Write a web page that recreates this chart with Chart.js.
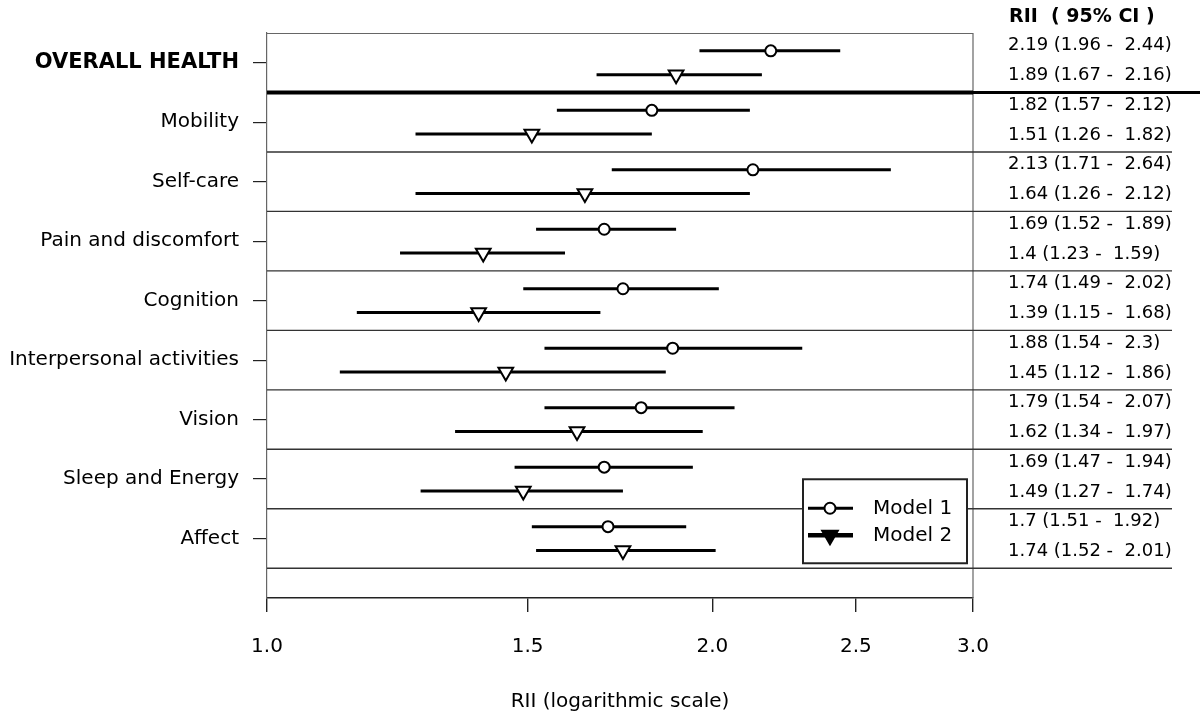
<!DOCTYPE html>
<html><head><meta charset="utf-8">
<script src="https://cdn.jsdelivr.net/npm/chart.js@4/dist/chart.umd.min.js"></script>
<style>html,body{margin:0;padding:0;background:#fff}#wrap{width:1200px;height:721px}</style>
</head><body><div id="wrap"><canvas id="c" width="1200" height="721"></canvas></div>
<script>
const categories = ["OVERALL HEALTH","Mobility","Self-care","Pain and discomfort","Cognition","Interpersonal activities","Vision","Sleep and Energy","Affect"];
const xTicks = [1.0, 1.5, 2.0, 2.5, 3.0];
const seriesNames = ["Model 1", "Model 2"];
const model1Est = [2.19, 1.82, 2.13, 1.69, 1.74, 1.88, 1.79, 1.69, 1.7];
const model1Lo  = [1.96, 1.57, 1.71, 1.52, 1.49, 1.54, 1.54, 1.47, 1.51];
const model1Hi  = [2.44, 2.12, 2.64, 1.89, 2.02, 2.3, 2.07, 1.94, 1.92];
const model2Est = [1.89, 1.51, 1.64, 1.4, 1.39, 1.45, 1.62, 1.49, 1.74];
const model2Lo  = [1.67, 1.26, 1.26, 1.23, 1.15, 1.12, 1.34, 1.27, 1.52];
const model2Hi  = [2.16, 1.82, 2.12, 1.59, 1.68, 1.86, 1.97, 1.74, 2.01];
const tableHeader = "RII  ( 95% CI )";
const xTitle = "RII (logarithmic scale)";

const FONT = "'DejaVu Sans', sans-serif";
const OFF = 0.2;
const fmt = (e, l, h) => `${e} (${l} -  ${h})`;

const markerSets = [
  { label: seriesNames[0], data: categories.map((c, i) => ({ x: model1Est[i], y: i - OFF })),
    showLine: false, pointStyle: 'circle', pointRadius: 5.5, pointBorderWidth: 2,
    pointBorderColor: '#000', pointBackgroundColor: '#fff', borderColor: '#000', backgroundColor: '#fff' },
  { label: seriesNames[1], data: categories.map((c, i) => ({ x: model2Est[i], y: i + OFF })),
    showLine: false, pointStyle: 'triangle', pointRotation: 180, pointRadius: 8.5, pointBorderWidth: 2,
    pointBorderColor: '#000', pointBackgroundColor: '#fff', borderColor: '#000', backgroundColor: '#fff' }
];
const ciSets = [];
categories.forEach((c, i) => {
  ciSets.push({ label: 'ci1', data: [{ x: model1Lo[i], y: i - OFF }, { x: model1Hi[i], y: i - OFF }],
    showLine: true, borderColor: '#000', borderWidth: 3, pointRadius: 0, borderCapStyle: 'butt' });
  ciSets.push({ label: 'ci2', data: [{ x: model2Lo[i], y: i + OFF }, { x: model2Hi[i], y: i + OFF }],
    showLine: true, borderColor: '#000', borderWidth: 3, pointRadius: 0, borderCapStyle: 'butt' });
});

const decor = {
  id: 'decor',
  beforeDatasetsDraw(chart) {
    const { ctx, chartArea: a, scales: { y } } = chart;
    ctx.save();
    ctx.strokeStyle = '#666'; ctx.lineWidth = 1.2;
    ctx.beginPath();
    ctx.moveTo(a.left, a.top + 0.5); ctx.lineTo(a.right, a.top + 0.5);
    ctx.moveTo(a.right, a.top); ctx.lineTo(a.right, a.bottom);
    ctx.stroke();
    for (let i = 0; i < categories.length; i++) {
      const py = y.getPixelForValue(i + 0.5);
      ctx.beginPath();
      if (i === 0) {
        ctx.strokeStyle = '#000'; ctx.lineWidth = 4;
        ctx.moveTo(a.left, py); ctx.lineTo(a.right, py);
        ctx.stroke();
        ctx.beginPath(); ctx.lineWidth = 3;
        ctx.moveTo(a.right, py); ctx.lineTo(chart.width, py);
        ctx.stroke();
      } else {
        ctx.strokeStyle = '#333'; ctx.lineWidth = 1.4;
        ctx.moveTo(a.left, py); ctx.lineTo(a.right + 199, py);
        ctx.stroke();
      }
    }
    ctx.restore();
  },
  afterDraw(chart) {
    const { ctx, chartArea: a, scales: { y } } = chart;
    ctx.save();
    ctx.fillStyle = '#000';
    ctx.textBaseline = 'middle'; ctx.textAlign = 'left';
    const tx = a.right + 35;
    ctx.font = "bold 19px " + FONT;
    ctx.fillText(tableHeader, tx + 1, 17);
    ctx.font = "18px " + FONT;
    categories.forEach((c, i) => {
      ctx.fillText(fmt(model1Est[i], model1Lo[i], model1Hi[i]), tx, y.getPixelForValue(i - 0.285));
      ctx.fillText(fmt(model2Est[i], model2Lo[i], model2Hi[i]), tx, y.getPixelForValue(i + 0.215));
    });
    const bx = a.right - 170, by = y.getPixelForValue(categories.length - 0.5) - 89, bw = 164, bh = 84;
    ctx.fillStyle = '#fff'; ctx.fillRect(bx, by, bw, bh);
    ctx.strokeStyle = '#222'; ctx.lineWidth = 2;
    ctx.strokeRect(bx, by, bw, bh);
    const y1 = by + 29, y2 = by + 56, lx0 = bx + 5, lx1 = bx + 50, mx = bx + 27;
    ctx.strokeStyle = '#000';
    ctx.lineWidth = 3;
    ctx.beginPath(); ctx.moveTo(lx0, y1); ctx.lineTo(lx1, y1); ctx.stroke();
    ctx.fillStyle = '#fff'; ctx.lineWidth = 2;
    ctx.beginPath(); ctx.arc(mx, y1, 5.5, 0, Math.PI * 2); ctx.fill(); ctx.stroke();
    ctx.lineWidth = 4.5;
    ctx.beginPath(); ctx.moveTo(lx0, y2); ctx.lineTo(lx1, y2); ctx.stroke();
    ctx.fillStyle = '#000'; ctx.lineWidth = 2.5; ctx.lineJoin = 'miter';
    const r = 8.5;
    ctx.beginPath();
    ctx.moveTo(mx, y2 + r);
    ctx.lineTo(mx - r * Math.sin(Math.PI / 3), y2 - r / 2);
    ctx.lineTo(mx + r * Math.sin(Math.PI / 3), y2 - r / 2);
    ctx.closePath(); ctx.fill(); ctx.stroke();
    ctx.fillStyle = '#000'; ctx.font = "20px " + FONT;
    ctx.fillText(seriesNames[0], bx + 70, y1 + 1);
    ctx.fillText(seriesNames[1], bx + 70, y2 + 1);
    ctx.restore();
  }
};

new Chart(document.getElementById('c'), {
  type: 'scatter',
  data: { datasets: [...markerSets, ...ciSets] },
  options: {
    responsive: false, animation: false, events: [],
    layout: { padding: { top: 33, right: 227, bottom: 0, left: 0 } },
    plugins: { legend: { display: false }, tooltip: { enabled: false } },
    scales: {
      x: {
        type: 'logarithmic', min: 1, max: 3, position: 'bottom',
        afterBuildTicks: (s) => { s.ticks = xTicks.map(v => ({ value: v })); },
        afterFit: (s) => { s.height = 123; },
        ticks: { callback: (v) => Number(v).toFixed(1), color: '#000', padding: 23,
                 font: { family: FONT, size: 20 }, autoSkip: false, maxRotation: 0 },
        grid: { drawOnChartArea: false, drawTicks: true, tickLength: 14, color: '#222', lineWidth: 1.4 },
        border: { display: true, color: '#222', width: 1.5 },
        title: { display: true, text: xTitle, color: '#000', font: { family: FONT, size: 20 },
                 padding: { top: 0, bottom: 7 } }
      },
      y: {
        type: 'linear', min: -0.5, max: categories.length, reverse: true,
        afterBuildTicks: (s) => { s.ticks = categories.map((c, i) => ({ value: i })); },
        afterFit: (s) => { s.width = 267; },
        ticks: { callback: (v) => categories[v], color: '#000', padding: 14, autoSkip: false,
                 font: (ctx) => ctx.index === 0 ? { family: FONT, size: 21, weight: 'bold' } : { family: FONT, size: 20 } },
        grid: { drawOnChartArea: false, drawTicks: true, tickLength: 14, color: '#222', lineWidth: 1.2 },
        border: { display: true, color: '#666', width: 1.2 }
      }
    }
  },
  plugins: [decor]
});
</script>
</body></html>
